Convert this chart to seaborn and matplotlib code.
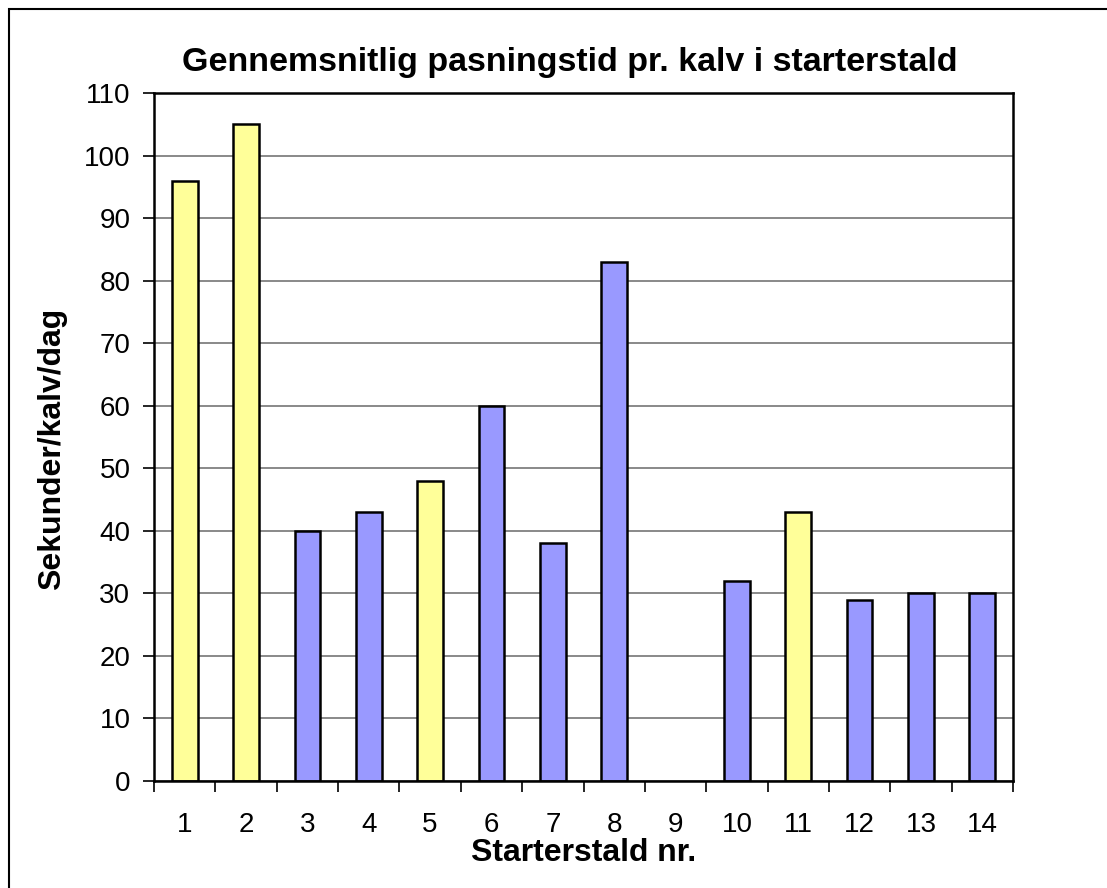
import matplotlib
matplotlib.use("Agg")
import matplotlib.pyplot as plt
import seaborn as sns
import numpy as np
import pandas as pd
from matplotlib.patches import Rectangle

categories = ["1", "2", "3", "4", "5", "6", "7", "8", "9", "10", "11", "12", "13", "14"]
values = [96, 105, 40, 43, 48, 60, 38, 83, np.nan, 32, 43, 29, 30, 30]
groups = ["Y", "Y", "B", "B", "Y", "B", "B", "B", "B", "B", "Y", "B", "B", "B"]
title = "Gennemsnitlig pasningstid pr. kalv i starterstald"
xlabel = "Starterstald nr."
ylabel = "Sekunder/kalv/dag"
yticks = list(range(0, 111, 10))

sns.set_style("white")
plt.rcParams["font.family"] = ["Liberation Sans", "DejaVu Sans"]
plt.rcParams["text.color"] = "black"
plt.rcParams["axes.labelcolor"] = "black"
plt.rcParams["xtick.color"] = "black"
plt.rcParams["ytick.color"] = "black"

df = pd.DataFrame({"cat": categories, "val": values, "grp": groups})

fig = plt.figure(figsize=(11.07, 8.88), dpi=100)
ax = fig.add_axes([154/1107, 1-781/888, (1013-154)/1107, (781-93)/888])

sns.barplot(data=df, x="cat", y="val", hue="grp", order=categories,
            palette={"Y": "#FFFF99", "B": "#9999FF"}, dodge=False, width=0.42,
            saturation=1, edgecolor="black", linewidth=1.8, legend=False, ax=ax)

ax.set_ylim(0, 110)
ax.set_xlim(-0.5, len(categories) - 0.5)
ax.set_yticks(yticks)
ax.set_yticklabels([str(t) for t in yticks], fontsize=20)
ax.yaxis.grid(True, color="#808080", linewidth=1.3)
ax.set_axisbelow(True)

# ticks at category boundaries, labels at centers
ax.set_xticks(np.arange(-0.5, len(categories), 1.0))
ax.set_xticklabels([""] * (len(categories) + 1))
ax.set_xticks(np.arange(len(categories)), minor=True)
ax.set_xticklabels(categories, minor=True, fontsize=20)
ax.tick_params(axis="x", which="major", length=8, width=1.2, direction="out", color="black", bottom=True)
ax.tick_params(axis="x", which="minor", length=0, pad=22)
ax.tick_params(axis="y", length=8, width=1.2, direction="out", color="black", left=True, pad=9)

for s in ax.spines.values():
    s.set_visible(True)
    s.set_color("black")
    s.set_linewidth(1.8)

ax.set_xlabel(xlabel, fontsize=23, fontweight="bold")
ax.set_ylabel(ylabel, fontsize=23, fontweight="bold")
ax.xaxis.set_label_coords(0.5, -(853-781)/688)
ax.yaxis.set_label_coords(-(154-52)/859, (781-449)/688)
ax.xaxis.label.set_va("center")
ax.yaxis.label.set_va("center")

fig.text(570/1107, 1-62/888, title, fontsize=24.5, fontweight="bold", ha="center", va="center")

fig.patches.append(Rectangle((9/1107, -0.1), 1.2, 1-9/888+0.1, transform=fig.transFigure,
                             fill=False, edgecolor="black", linewidth=1.5))

fig.savefig("out.png", dpi=100)
